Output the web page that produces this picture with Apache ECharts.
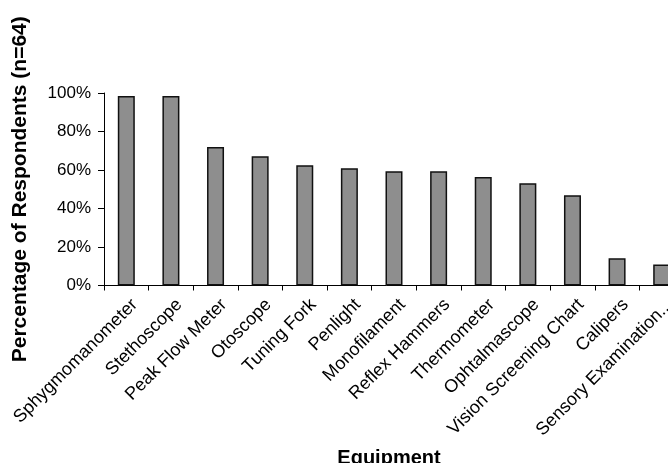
<!DOCTYPE html>
<html>
<head>
<meta charset="utf-8">
<script src="https://cdn.jsdelivr.net/npm/echarts@6/dist/echarts.min.js"></script>
<style>
  html, body { margin: 0; padding: 0; background: #ffffff; }
  #chart { width: 668px; height: 463px; }
</style>
</head>
<body>
<div id="chart"></div>
<script>
// Equipment available, share of respondents (n=64)
const categories = [
  'Sphygmomanometer', 'Stethoscope', 'Peak Flow Meter', 'Otoscope', 'Tuning Fork',
  'Penlight', 'Monofilament', 'Reflex Hammers', 'Thermometer', 'Ophtalmascope',
  'Vision Screening Chart', 'Calipers', 'Sensory Examination...'
];
const percentValues = [98.4, 98.4, 71.9, 67.2, 62.5, 60.9, 59.4, 59.4, 56.3, 53.1, 46.9, 14.1, 10.9];
const yTicks = [0, 20, 40, 60, 80, 100];

const chart = echarts.init(document.getElementById('chart'), null, { renderer: 'canvas' });
const font = '"Liberation Sans", Arial, sans-serif';

chart.setOption({
  animation: false,
  backgroundColor: '#ffffff',
  // plot area runs past the right edge, so the last bar is clipped
  grid: { left: 104, top: 93, width: 580, height: 192.5, containLabel: false, outerBoundsMode: 'none' },
  xAxis: {
    type: 'category',
    data: categories,
    name: 'Equipment',
    nameLocation: 'middle',
    nameGap: 163,
    nameTextStyle: { fontFamily: font, fontSize: 20, fontWeight: 'bold', color: '#000', padding: [0, 10, 0, 0] },
    axisLine: { lineStyle: { color: '#000', width: 1 } },
    axisTick: { show: true, length: 5, lineStyle: { color: '#000' } },
    // leading blank line nudges each slanted label below its tick
    axisLabel: {
      interval: 0, rotate: 45, fontFamily: font, fontSize: 18, color: '#000',
      margin: 8, lineHeight: 24, formatter: (v) => '\n' + v
    }
  },
  yAxis: {
    type: 'value',
    min: yTicks[0],
    max: yTicks[yTicks.length - 1],
    interval: 20,
    name: 'Percentage of Respondents (n=64)',
    nameLocation: 'middle',
    nameRotate: 90,
    nameGap: 73,
    nameTextStyle: { fontFamily: font, fontSize: 21, fontWeight: 'bold', color: '#000' },
    axisLine: { show: true, lineStyle: { color: '#000', width: 1 } },
    axisTick: { show: true, length: 6, lineStyle: { color: '#000' } },
    splitLine: { show: false },
    axisLabel: { formatter: '{value}%', fontFamily: font, fontSize: 17, color: '#000', margin: 13 }
  },
  series: [{
    type: 'bar',
    data: percentValues,
    barWidth: 17,
    itemStyle: { color: '#8e8e8e', borderColor: '#111', borderWidth: 1.5 }
  }]
});
</script>
</body>
</html>
